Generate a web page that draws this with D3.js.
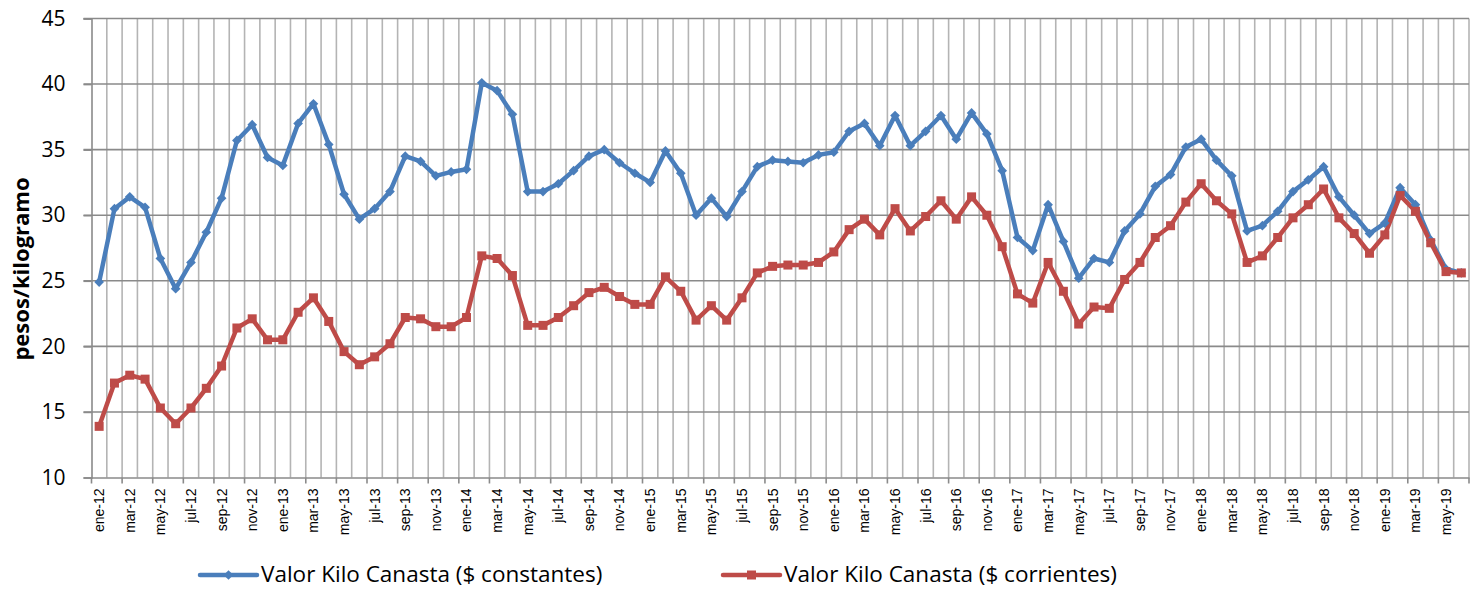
<!DOCTYPE html>
<html>
<head>
<meta charset="utf-8">
<script src="https://cdn.jsdelivr.net/npm/d3@7"></script>
<style>
  body { margin: 0; background: #fff; }
  svg { display: block; font-family: "Open Sans", "Liberation Sans", sans-serif; }
</style>
</head>
<body>
<svg width="1476" height="589"></svg>
<script>
// month names and years used for the category axis
const meses = ["ene", "feb", "mar", "abr", "may", "jun", "jul", "ago", "sep", "oct", "nov", "dic"];
const anios = ["12", "13", "14", "15", "16", "17", "18", "19"];

// valor kilo canasta, $ constantes (ene-12 .. jun-19)
const constantes = [
  24.9, 30.5, 31.4, 30.6, 26.7, 24.4, 26.4, 28.7, 31.3, 35.7, 36.9, 34.4,
  33.8, 37.0, 38.5, 35.4, 31.6, 29.7, 30.5, 31.8, 34.5, 34.1, 33.0, 33.3,
  33.5, 40.1, 39.5, 37.7, 31.8, 31.8, 32.4, 33.4, 34.5, 35.0, 34.0, 33.2,
  32.5, 34.9, 33.2, 30.0, 31.3, 29.9, 31.8, 33.7, 34.2, 34.1, 34.0, 34.6,
  34.8, 36.4, 37.0, 35.3, 37.6, 35.3, 36.4, 37.6, 35.8, 37.8, 36.2, 33.4,
  28.3, 27.3, 30.8, 28.0, 25.2, 26.7, 26.4, 28.8, 30.1, 32.2, 33.1, 35.2,
  35.8, 34.2, 33.0, 28.8, 29.2, 30.3, 31.8, 32.7, 33.7, 31.4, 30.0, 28.6,
  29.4, 32.1, 30.8, 28.1, 25.9, 25.6
];

// valor kilo canasta, $ corrientes
const corrientes = [
  13.9, 17.2, 17.8, 17.5, 15.3, 14.1, 15.3, 16.8, 18.5, 21.4, 22.1, 20.5,
  20.5, 22.6, 23.7, 21.9, 19.6, 18.6, 19.2, 20.2, 22.2, 22.1, 21.5, 21.5,
  22.2, 26.9, 26.7, 25.4, 21.6, 21.6, 22.2, 23.1, 24.1, 24.5, 23.8, 23.2,
  23.2, 25.3, 24.2, 22.0, 23.1, 22.0, 23.7, 25.6, 26.1, 26.2, 26.2, 26.4,
  27.2, 28.9, 29.7, 28.5, 30.5, 28.8, 29.9, 31.1, 29.7, 31.4, 30.0, 27.6,
  24.0, 23.3, 26.4, 24.2, 21.7, 23.0, 22.9, 25.1, 26.4, 28.3, 29.2, 31.0,
  32.4, 31.1, 30.1, 26.4, 26.9, 28.3, 29.8, 30.8, 32.0, 29.8, 28.6, 27.1,
  28.5, 31.5, 30.3, 27.9, 25.7, 25.6
];

const yTicks = [10, 15, 20, 25, 30, 35, 40, 45];
const nombres = ["Valor Kilo Canasta ($ constantes)", "Valor Kilo Canasta ($ corrientes)"];
const colores = ["#4a7ebb", "#be4b48"];

const categorias = [];
anios.forEach(a => meses.forEach(m => categorias.push(m + "-" + a)));
categorias.length = constantes.length;

const svg = d3.select("svg");

const x = d3.scaleBand()
    .domain(categorias)
    .range([91.5, 1469])
    .padding(0);

const y = d3.scaleLinear()
    .domain([10, 45])
    .range([477.5, 18.5]);

const cx = d => x(d) + x.bandwidth() / 2;
const xEnd = x.range()[1];

// vertical gridlines at category boundaries
svg.append("g")
    .selectAll("line")
    .data(categorias.slice(1).concat(["__end"]))
    .enter()
    .append("line")
    .attr("x1", d => d === "__end" ? xEnd : x(d))
    .attr("x2", d => d === "__end" ? xEnd : x(d))
    .attr("y1", y(45))
    .attr("y2", y(10))
    .attr("stroke", "#b4b4b4")
    .attr("stroke-width", 1.6);

// horizontal gridlines
svg.append("g")
    .selectAll("line")
    .data(yTicks.slice(1))
    .enter()
    .append("line")
    .attr("x1", x.range()[0] - 8)
    .attr("x2", xEnd)
    .attr("y1", d => y(d))
    .attr("y2", d => y(d))
    .attr("stroke", "#8a8a8a")
    .attr("stroke-width", 1.6);

// y axis
const yAxis = svg.append("g")
    .attr("transform", `translate(${x.range()[0]},0)`)
    .call(d3.axisLeft(y).tickValues(yTicks).tickSize(8).tickPadding(18));
yAxis.select(".domain").attr("stroke", "#8a8a8a").attr("stroke-width", 1.6);
yAxis.selectAll(".tick line").attr("stroke", "#8a8a8a").attr("stroke-width", 1.6);
yAxis.selectAll(".tick text")
    .attr("font-size", 21)
    .attr("fill", "#000")
    .style("font-family", "Open Sans, sans-serif");

// x axis
const labelCats = categorias.filter((d, i) => i % 2 === 0);
const xAxis = svg.append("g")
    .attr("transform", `translate(0,${y(10)})`)
    .call(d3.axisBottom(x).tickValues(labelCats).tickSize(0).tickPadding(0));
xAxis.select(".domain").attr("stroke", "#8a8a8a").attr("stroke-width", 1.6);
xAxis.selectAll(".tick text")
    .attr("transform", "rotate(-90)")
    .attr("text-anchor", "end")
    .attr("x", -11)
    .attr("y", 0)
    .attr("dy", "0.35em")
    .attr("font-size", 14)
    .attr("fill", "#000");

// tick marks at boundaries, every two months
xAxis.append("g")
    .selectAll("line")
    .data(labelCats.concat(["__end"]))
    .enter()
    .append("line")
    .attr("x1", d => d === "__end" ? xEnd : x(d))
    .attr("x2", d => d === "__end" ? xEnd : x(d))
    .attr("y1", 0)
    .attr("y2", 6)
    .attr("stroke", "#8a8a8a")
    .attr("stroke-width", 1.6);

// y label
svg.append("text")
    .attr("transform", "translate(29,269) rotate(-90)")
    .attr("text-anchor", "middle")
    .attr("font-size", 22)
    .attr("font-weight", "bold")
    .text("pesos/kilogramo");

// lines
const line = d3.line()
    .x((d, i) => cx(categorias[i]))
    .y(d => y(d));

const series = [constantes, corrientes];

series.forEach((s, k) => {
    svg.append("path")
        .datum(s)
        .attr("fill", "none")
        .attr("stroke", colores[k])
        .attr("stroke-width", 4.5)
        .attr("stroke-linejoin", "round")
        .attr("d", line);
});

// markers: diamonds for constantes, squares for corrientes
svg.append("g")
    .selectAll("path")
    .data(constantes)
    .enter()
    .append("path")
    .attr("d", d3.symbol().type(d3.symbolDiamond2).size(60))
    .attr("transform", (d, i) => `translate(${cx(categorias[i])},${y(d)})`)
    .attr("fill", colores[0]);

svg.append("g")
    .selectAll("rect")
    .data(corrientes)
    .enter()
    .append("rect")
    .attr("x", (d, i) => cx(categorias[i]) - 4.5)
    .attr("y", d => y(d) - 4.5)
    .attr("width", 9)
    .attr("height", 9)
    .attr("fill", colores[1]);

// legend
const legendX = [200, 723];
const legend = svg.append("g")
    .selectAll("g")
    .data(nombres)
    .enter()
    .append("g")
    .attr("transform", (d, i) => `translate(${legendX[i]},575)`);

legend.append("line")
    .attr("x1", 0).attr("x2", 57)
    .attr("stroke", (d, i) => colores[i])
    .attr("stroke-width", 4.5)
    .attr("stroke-linecap", "round");

legend.each(function(d, i) {
    const g = d3.select(this);
    if (i === 0) {
        g.append("path")
            .attr("d", d3.symbol().type(d3.symbolDiamond2).size(60))
            .attr("transform", "translate(28.5,0)")
            .attr("fill", colores[0]);
    } else {
        g.append("rect")
            .attr("x", 24).attr("y", -4.5)
            .attr("width", 9).attr("height", 9)
            .attr("fill", colores[1]);
    }
});

legend.append("text")
    .attr("x", 61)
    .attr("dy", "0.33em")
    .attr("font-size", 22.5)
    .text(d => d);
</script>
</body>
</html>
